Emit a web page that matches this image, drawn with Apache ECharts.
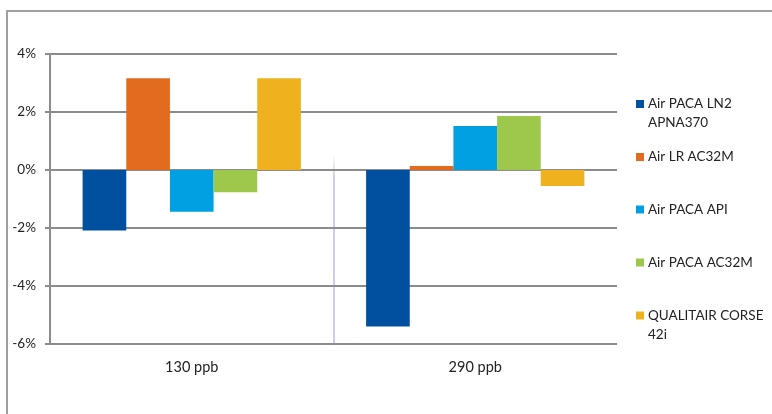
<!DOCTYPE html>
<html>
<head>
<meta charset="utf-8">
<script src="https://cdn.jsdelivr.net/npm/echarts@6/dist/echarts.min.js"></script>
<style>html,body{margin:0;padding:0;background:#fff}#c{width:772px;height:414px}</style>
</head>
<body>
<div id="c"></div>
<script>
const categories = ['130 ppb', '290 ppb'];
const seriesNames = ['Air PACA LN2 APNA370', 'Air LR AC32M', 'Air PACA API', 'Air PACA AC32M', 'QUALITAIR CORSE 42i'];
const legendLabels = ['\nAir PACA LN2\nAPNA370', 'Air LR AC32M', 'Air PACA API', 'Air PACA AC32M', '\nQUALITAIR CORSE\n42i'];
const valuesLN2 = [-2.09, -5.40];
const valuesLR = [3.16, 0.14];
const valuesAPI = [-1.44, 1.52];
const valuesAC32M = [-0.77, 1.86];
const valuesCorse = [3.16, -0.55];
const yTicks = { min: -6, max: 4, interval: 2 };
const colors = ['#0050A0', '#E36B1E', '#00A0E2', '#9DC84C', '#F0B11E'];

const allValues = [valuesLN2, valuesLR, valuesAPI, valuesAC32M, valuesCorse];
const chart = echarts.init(document.getElementById('c'), null, { renderer: 'canvas' });

const legendCenters = [104, 157, 209.5, 262.5, 315.5];
const lh = 19;
const legends = seriesNames.map((n, i) => {
  const lines = legendLabels[i].split('\n').length;
  return {
    data: [n],
    orient: 'vertical',
    left: 636,
    top: legendCenters[i] - (lines * lh) / 2,
    padding: 0,
    itemWidth: 8,
    itemHeight: 8,
    itemGap: 6,
    icon: 'rect',
    formatter: () => legendLabels[i],
    textStyle: { fontFamily: 'Lato', fontSize: 13.5, color: '#222', lineHeight: lh, padding: [0, 0, 0, -1] }
  };
});

const sepGradient = new echarts.graphic.LinearGradient(0, 0, 0, 1, [
  { offset: 0, color: 'rgba(197,209,234,0)' },
  { offset: 0.35, color: 'rgba(197,209,234,0)' },
  { offset: 0.43, color: 'rgba(197,209,234,1)' },
  { offset: 1, color: 'rgba(197,209,234,1)' }
]);

chart.setOption({
  animation: false,
  color: colors,
  graphic: [{
    type: 'rect',
    shape: { x: 7, y: 11, width: 900, height: 600 },
    style: { fill: 'none', stroke: '#a0a0a0', lineWidth: 2 },
    silent: true, z: -10
  }],
  grid: { left: 50, right: 155, top: 54, bottom: 70 },
  legend: legends,
  xAxis: {
    type: 'category',
    z: -1,
    data: categories,
    axisLine: { show: false, onZero: false },
    axisTick: { show: false },
    axisLabel: { fontFamily: 'Lato', fontSize: 14.5, color: '#222', margin: 16 },
    splitLine: {
      show: true,
      interval: 0,
      lineStyle: { width: 2, color: ['rgba(0,0,0,0)', sepGradient, 'rgba(0,0,0,0)'] }
    }
  },
  yAxis: {
    type: 'value',
    z: 1,
    min: yTicks.min, max: yTicks.max, interval: yTicks.interval,
    axisLine: { show: true, lineStyle: { color: '#8c8c8c', width: 2 } },
    axisTick: { show: true, length: 5, lineStyle: { color: '#8c8c8c', width: 2 } },
    axisLabel: { formatter: (v) => v + '%', fontFamily: 'Lato', fontSize: 13.5, color: '#222', margin: 14 },
    splitLine: { show: true, lineStyle: { color: '#8c8c8c', width: 2 } }
  },
  series: seriesNames.map((n, i) => ({
    name: n,
    type: 'bar',
    data: allValues[i],
    barGap: '0%',
    barCategoryGap: '23%',
    itemStyle: { color: colors[i] },
    z: 3
  }))
});
</script>
</body>
</html>
